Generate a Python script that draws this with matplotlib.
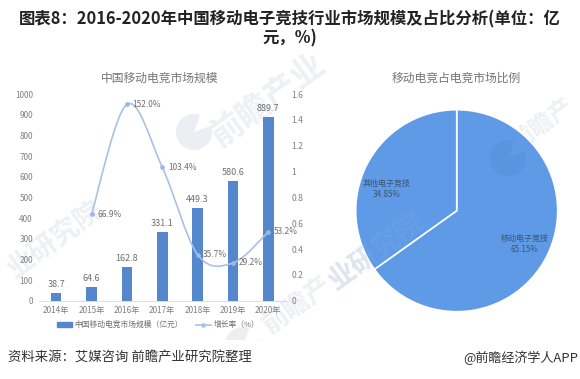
import matplotlib
matplotlib.use('Agg')
import matplotlib.pyplot as plt
from matplotlib.lines import Line2D
from matplotlib.patches import PathPatch, Patch, Rectangle, Wedge
from matplotlib.path import Path
import numpy as np

plt.rcParams['font.family'] = ['Noto Sans CJK SC', 'DejaVu Sans']

years = ['2014年', '2015年', '2016年', '2017年', '2018年', '2019年', '2020年']
market_size = [38.7, 64.6, 162.8, 331.1, 449.3, 580.6, 889.7]
growth = [66.9, 152.0, 103.4, 35.7, 29.2, 53.2]
left_ticks = [0, 100, 200, 300, 400, 500, 600, 700, 800, 900, 1000]
right_ticks = ['0', '0.2', '0.4', '0.6', '0.8', '1', '1.2', '1.4', '1.6']
share_names = ['移动电子竞技', '其他电子竞技']
share_values = [65.15, 34.85]

W, H = 580, 379
fig = plt.figure(figsize=(W / 100, H / 100), dpi=100, facecolor='white')


def box(x0, y0, x1, y1):
    # pixel box (top left origin) to figure fractions
    return [x0 / W, 1 - y1 / H, (x1 - x0) / W, (y1 - y0) / H]


# background watermarks
bg = fig.add_axes([0, 0, 1, 1], zorder=0)
bg.set_xlim(0, W)
bg.set_ylim(H, 0)
bg.axis('off')


def mark(x, y, s, size=20):
    bg.text(x, y, s, fontsize=size, color='#eef0f4', rotation=36,
            ha='center', va='center', fontweight='bold', zorder=1)


def logo(a, cx, cy, color, alpha=1):
    a.add_patch(Wedge((cx, cy), 18, 340, 650, color=color, alpha=alpha, lw=0, zorder=1))


logo(bg, 194, 132, '#eceef3')
logo(bg, 243, 345, '#eceef3')
mark(55, 240, '业研究院', 20)
mark(268, 100, '前瞻产业', 24)
mark(298, 305, '前瞻产', 19)
mark(376, 252, '业研究院', 20)
mark(543, 124, '前瞻产', 17)
bg.add_patch(Rectangle((0, 340), W, 39, color='white', lw=0, zorder=2))

# left chart
ax = fig.add_axes(box(38.5, 94, 286, 300.7), zorder=1)
ax.patch.set_alpha(0)
x = np.arange(len(years))
ax.bar(x, market_size, width=0.3, color='#5587cc', zorder=2)
ax.set_xlim(-0.5, 6.5)
ax.set_ylim(0, 1000)
ax.set_yticks(left_ticks)
ax.set_xticks(x)
ax.set_xticklabels(years)
ax.tick_params(axis='both', length=0, labelsize=5.9, labelcolor='#808080', pad=4)
for s in ['top', 'left', 'right']:
    ax.spines[s].set_visible(False)
ax.spines['bottom'].set_color('#d9d9d9')
ax.spines['bottom'].set_linewidth(0.6)
for xi, v in zip(x, market_size):
    ax.annotate(f'{v}', (xi, v), xytext=(0, 3), textcoords='offset points',
                ha='center', va='bottom', fontsize=6.5, color='#6f6f6f')

ax_r = ax.twinx()
ax_r.patch.set_alpha(0)
ax_r.set_ylim(0, 1.6)
ax_r.set_yticks(np.arange(len(right_ticks)) * 0.2)
ax_r.set_yticklabels(right_ticks)
ax_r.tick_params(axis='y', length=0, labelsize=6.2, labelcolor='#808080', pad=4)
for s in ax_r.spines.values():
    s.set_visible(False)

# smooth line like excel, bezier segments through the real values
gx = x[1:]
gy = np.array(growth) / 100
verts = [(gx[0], gy[0])]
codes = [Path.MOVETO]
k = 1 / 6
for i in range(len(gx) - 1):
    p0 = max(i - 1, 0)
    p3 = min(i + 2, len(gx) - 1)
    verts.append((gx[i] + (gx[i + 1] - gx[p0]) * k, gy[i] + (gy[i + 1] - gy[p0]) * k))
    verts.append((gx[i + 1] - (gx[p3] - gx[i]) * k, gy[i + 1] - (gy[p3] - gy[i]) * k))
    verts.append((gx[i + 1], gy[i + 1]))
    codes += [Path.CURVE4] * 3
ax_r.add_patch(PathPatch(Path(verts, codes), fc='none', ec='#a9c1e6', lw=1.2, zorder=3))
ax_r.plot(gx, gy, ls='none', marker='o', ms=2.4, color='#9db9e3', zorder=4)
for xi, yi, g in zip(gx, gy, growth):
    ax_r.annotate(f'{g}%', (xi, yi), xytext=(4, 0), textcoords='offset points',
                  ha='left', va='center', fontsize=6, color='#6f6f6f', zorder=5)

fig.text(160 / W, 1 - 78 / H, '中国移动电竞市场规模', fontsize=8.5, color='#757575',
         ha='center', va='center')
handles = [Patch(color='#5587cc'),
           Line2D([], [], color='#a9c1e6', lw=1.2, marker='o', ms=2.4)]
fig.legend(handles, ['中国移动电竞市场规模（亿元）', '增长率（%）'],
           loc='center', bbox_to_anchor=(158 / W, 1 - 325 / H), ncol=2, frameon=False,
           fontsize=5.6, labelcolor='#6f6f6f', handlelength=2.0, handleheight=0.5,
           columnspacing=1.6, handletextpad=0.3)

# pie chart
ax2 = fig.add_axes(box(355.7, 109.7, 557.7, 311.7), zorder=1)
ax2.pie(share_values, startangle=90, counterclock=False, colors=['#5f9ae6', '#5f9ae6'],
        radius=1, wedgeprops={'edgecolor': 'white', 'linewidth': 1.2})
ax2.set_xlim(-1, 1)
ax2.set_ylim(-1, 1)
ax2.text(0.67, -0.33, f'{share_names[0]}\n{share_values[0]}%', fontsize=5.8,
         color='#3f5573', ha='center', va='center', linespacing=1.3)
ax2.text(-0.69, 0.22, f'{share_names[1]}\n{share_values[1]}%', fontsize=5.8,
         color='#3f5573', ha='center', va='center', linespacing=1.3)
fig.text(456 / W, 1 - 78 / H, '移动电竞占电竞市场比例', fontsize=8.5, color='#757575',
         ha='center', va='center')

# marks on top of the pie
top = fig.add_axes([0, 0, 1, 1], zorder=2)
top.set_xlim(0, W)
top.set_ylim(H, 0)
top.axis('off')
logo(top, 508, 158, '#4f87d2', 0.3)
top.text(376, 252, '业研究院', fontsize=20, color='#8fb5ea', alpha=0.18, rotation=36,
         ha='center', va='center', fontweight='bold')

# title and footer
fig.text(290 / W, 1 - 19 / H, '图表8：2016-2020年中国移动电子竞技行业市场规模及占比分析(单位：亿',
         fontsize=11.8, fontweight='bold', color='#222222', ha='center', va='center')
fig.text(290 / W, 1 - 38 / H, '元，%)', fontsize=11.8, fontweight='bold', color='#222222',
         ha='center', va='center')
fig.text(8 / W, 1 - 358 / H, '资料来源：艾媒咨询 前瞻产业研究院整理', fontsize=9.6,
         color='#333333', ha='left', va='center')
fig.text(578 / W, 1 - 358 / H, '@前瞻经济学人APP', fontsize=9.4, color='#333333',
         ha='right', va='center')

fig.savefig('out.png', dpi=100)
